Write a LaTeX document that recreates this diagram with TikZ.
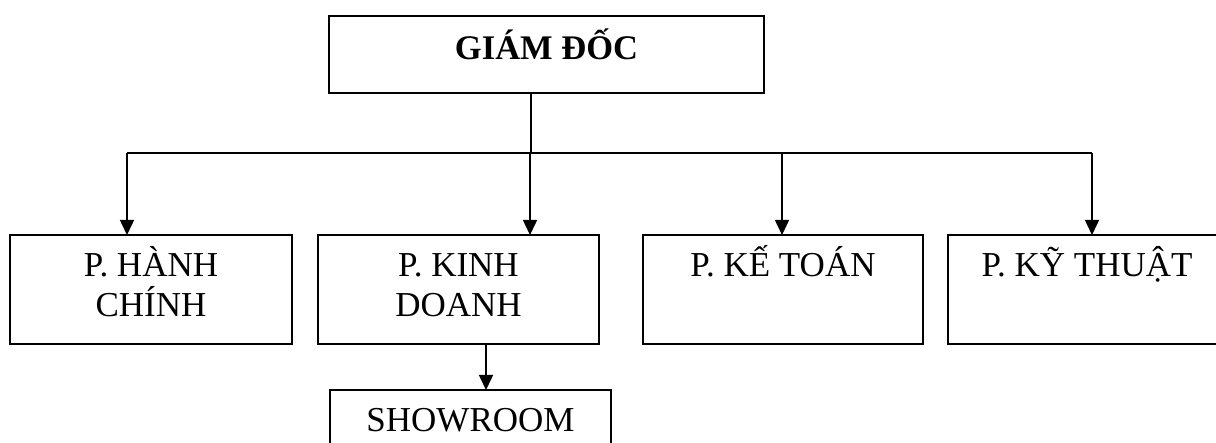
\documentclass[tikz,border=0pt]{standalone}
\usepackage{fontspec}
\setmainfont{Liberation Serif}
\usetikzlibrary{arrows.meta}
\begin{document}
\begin{tikzpicture}[x=1pt,y=-1pt,
  box/.style={draw, rectangle, line width=1.6pt, inner sep=0pt, outer sep=0pt},
  lbl/.style={font=\fontsize{35}{40}\selectfont, inner sep=0pt, align=center},
  conn/.style={line width=1.5pt},
  arr/.style={conn, -{Triangle[width=14pt,length=15pt]}}]
  \clip (0,0) rectangle (1216,443);
  \fill[white] (0,0) rectangle (1216,443);

  % boxes
  \node[box, minimum width=435pt, minimum height=77pt] (gd) at (546.5,54.5) {};
  \node[box, minimum width=282pt, minimum height=109pt] (hc) at (151,289.5) {};
  \node[box, minimum width=281pt, minimum height=109pt] (kd) at (458.5,289.5) {};
  \node[box, minimum width=280pt, minimum height=109pt] (kt) at (783,289.5) {};
  \node[box, minimum width=278pt, minimum height=109pt] (kth) at (1087,289.5) {};
  \node[box, minimum width=281pt, minimum height=77pt] (sr) at (470.5,428.5) {};

  % labels (two-line labels are anchored on the baseline of their last line)
  \node[lbl, anchor=base, font=\fontsize{34.5}{40}\selectfont\bfseries] (gd-t) at (546.5,60) {GIÁM ĐỐC};
  \node[lbl, anchor=base] (hc-t) at (151,317) {P. HÀNH\\CHÍNH};
  \node[lbl, anchor=base] (kd-t) at (458.5,317) {P. KINH\\DOANH};
  \node[lbl, anchor=base] (kt-t) at (783,277) {P. KẾ TOÁN};
  \node[lbl, anchor=base] (kth-t) at (1087,277) {P. KỸ THUẬT};
  \node[lbl, anchor=base] (sr-t) at (470.5,432) {SHOWROOM};

  % connectors
  \coordinate (hub) at (531,153);
  \coordinate (b1) at (127,153);
  \coordinate (b2) at (530,153);
  \coordinate (b3) at (782,153);
  \coordinate (b4) at (1092,153);
  \coordinate (sx) at (486,0);
  \draw[conn] (gd.south -| hub) -- (hub);
  \draw[conn] (b1) -- (b4);
  \draw[arr] (b1) -- (b1 |- hc.north);
  \draw[arr] (b2) -- (b2 |- kd.north);
  \draw[arr] (b3) -- (b3 |- kt.north);
  \draw[arr] (b4) -- (b4 |- kth.north);
  \draw[arr] (kd.south -| sx) -- (sr.north -| sx);
\end{tikzpicture}
\end{document}
